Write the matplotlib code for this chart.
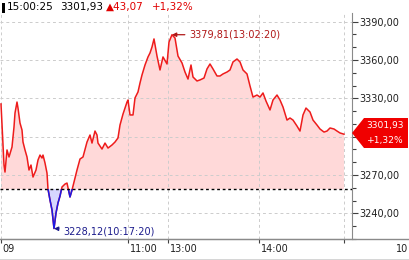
import matplotlib
matplotlib.use("Agg")
import matplotlib.pyplot as plt
import numpy as np
from matplotlib.patches import Polygon, Rectangle
from matplotlib.lines import Line2D
from matplotlib.ticker import MultipleLocator

plt.rcParams["font.family"] = ["DejaVu Sans"]

# intraday index, position along the (compressed) session axis
POS = [1, 4, 5, 7, 9, 12, 14, 15, 17, 18, 20, 22, 23, 25, 27, 29, 31, 33, 36, 38,
       40, 42, 43, 45, 47, 48, 50, 52, 54, 56, 58, 60, 62, 65, 67, 70, 72, 75, 77, 80,
       83, 87, 90, 92, 95, 97, 98, 102, 105, 108, 112, 115, 118, 120, 123, 127, 128, 130, 133, 135,
       138, 140, 142, 145, 148, 150, 152, 154, 157, 160, 163, 167, 169, 172, 175, 178, 182, 185, 188, 191,
       193, 197, 200, 204, 207, 210, 213, 217, 220, 223, 227, 230, 233, 237, 240, 243, 247, 250, 253, 257,
       260, 263, 266, 270, 273, 277, 280, 283, 287, 290, 293, 297, 300, 303, 306, 310, 313, 317, 320, 324,
       327, 330, 334, 337, 340, 344]
PRICE = [3325.6, 3277.8, 3272.3, 3289.6, 3284.1, 3291.9, 3307.6, 3318.5, 3327.1, 3322.4,
         3310.7, 3305.2, 3295.8, 3289.6, 3284.1, 3273.9, 3277.8, 3268.4, 3273.9, 3281.7,
         3285.6, 3283.3, 3285.6, 3279.4, 3271.5, 3259.0, 3250.4, 3242.6, 3228.12, 3240.2,
         3248.1, 3253.5, 3260.6, 3262.9, 3263.7, 3252.8, 3258.2, 3267.6, 3273.9, 3282.5,
         3284.1, 3295.8, 3301.3, 3295.0, 3304.4, 3301.3, 3295.0, 3290.3, 3295.0, 3291.1,
         3293.5, 3295.8, 3299.0, 3309.1, 3317.7, 3327.1, 3328.7, 3317.0, 3317.0, 3330.3,
         3335.0, 3342.0, 3348.3, 3356.1, 3362.4, 3365.5, 3370.2, 3376.5, 3363.1, 3352.2,
         3362.4, 3356.9, 3374.1, 3379.81, 3377.2, 3363.1, 3357.7, 3350.6, 3345.1, 3356.1,
         3346.7, 3343.6, 3344.4, 3345.9, 3353.0, 3356.9, 3353.0, 3347.5, 3347.5, 3349.1,
         3350.6, 3352.2, 3358.5, 3360.8, 3358.5, 3352.2, 3349.1, 3339.7, 3331.0, 3332.6,
         3331.0, 3334.2, 3327.9, 3320.9, 3328.7, 3332.6, 3328.7, 3323.2, 3313.0, 3314.6,
         3313.0, 3308.3, 3304.4, 3317.0, 3322.4, 3319.3, 3313.0, 3309.1, 3306.0, 3303.6,
         3304.4, 3306.8, 3306.0, 3304.4, 3302.9, 3301.93]

LAST = 3301.93
CHANGE = 43.07
CHANGE_PCT = "+1,32%"
PREV_CLOSE = LAST - CHANGE
HIGH = (172, 3379.81, "3379,81(13:02:20)")
LOW = (54, 3228.12, "3228,12(10:17:20)")

X_TICKS = [1, 128, 168, 259, 344]
X_LABELS = ["09", "11:00", "13:00", "14:00", ""]
Y_TICKS = [3240, 3270, 3300, 3330, 3360, 3390]
# the 3300 label sits under the last-price tag
Y_LABELS = ["3240,00", "3270,00", "", "3330,00", "3360,00", "3390,00"]

RED = "#ee1c1c"
BLUE = "#1a1ae6"
PINK = "#ffd9d9"
LILAC = "#d6d6ff"
GRID = "#cccccc"
AXIS = "#8a8a8a"

W, H = 409, 260
fig = plt.figure(figsize=(W / 100, H / 100), dpi=100)
ax = fig.add_axes([0, 21 / H, 352 / W, 226 / H])

x = np.array(POS, dtype=float)
y = np.array(PRICE)

ax.fill_between(x, y, PREV_CLOSE, where=y >= PREV_CLOSE, interpolate=True,
                color=PINK, lw=0, zorder=1)
ax.fill_between(x, y, PREV_CLOSE, where=y <= PREV_CLOSE, interpolate=True,
                color=LILAC, lw=0, zorder=1)
ax.plot(x, y, color=RED, lw=1.1, zorder=3)
blue_line, = ax.plot(x, y, color=BLUE, lw=1.1, zorder=4)
clip = Rectangle((-10, 3000), 500, PREV_CLOSE - 3000, transform=ax.transData)
blue_line.set_clip_path(clip)

ax.axhline(PREV_CLOSE, color="black", lw=1.0, ls=(0, (2, 2)), zorder=5)

ax.set_xlim(0, 352)
ax.set_ylim(3219.9, 3396.8)

ax.set_yticks(Y_TICKS)
ax.set_yticklabels(Y_LABELS, fontsize=7, color="#202020")
ax.yaxis.set_minor_locator(MultipleLocator(10))
ax.yaxis.tick_right()
ax.tick_params(axis="y", which="major", direction="out", length=4, width=0.8,
               color="#404040", pad=1)
ax.tick_params(axis="y", which="minor", direction="out", length=3, width=0.8,
               color="#404040")

ax.set_xticks(X_TICKS)
ax.set_xticklabels([])
ax.tick_params(axis="x", direction="out", length=3, width=0.8, color="#404040")
for pos, lab in zip(X_TICKS, X_LABELS):
    ax.text(pos + 1.5, -0.046, lab, transform=ax.get_xaxis_transform(),
            fontsize=7, ha="left", va="center", color="#202020")
ax.text(396, -0.046, "10", transform=ax.get_xaxis_transform(), fontsize=7,
        ha="left", va="center", color="#202020", clip_on=False)

ax.grid(True, color=GRID, ls=(0, (3, 3)), lw=0.7, zorder=0)
for s in ["top", "left"]:
    ax.spines[s].set_visible(False)
ax.spines["right"].set_color(AXIS)
ax.spines["bottom"].set_color(AXIS)
ax.set_facecolor("white")

fig.add_artist(Line2D([0, 1], [21 / H, 21 / H], color=AXIS, lw=1.0))
fig.add_artist(Line2D([0, 1], [0.5 / H, 0.5 / H], color="#303030", lw=1.0))

# high / low annotations
ax.annotate(HIGH[2], xy=(HIGH[0], HIGH[1]), xytext=(HIGH[0] + 17, HIGH[1]),
            fontsize=7, color="#b01818", va="center", ha="left",
            arrowprops=dict(arrowstyle="-|>", color="#b01818", lw=0.9,
                            mutation_scale=6, shrinkA=1, shrinkB=0), zorder=6)
ax.annotate(LOW[2], xy=(LOW[0], LOW[1]), xytext=(LOW[0] + 9, LOW[1] - 2.5),
            fontsize=7, color="#1c1c8c", va="center", ha="left",
            arrowprops=dict(arrowstyle="-|>", color="#1c1c8c", lw=0.9,
                            mutation_scale=6, shrinkA=1, shrinkB=0), zorder=6)


# last price tag on the right axis
def fx(px):
    return px / W


def fy(py):
    return 1 - py / H


tag = Polygon([(fx(352), fy(133)), (fx(364), fy(118)), (fx(408), fy(118)),
               (fx(408), fy(148)), (fx(364), fy(148))],
              closed=True, transform=fig.transFigure, facecolor="#f00000",
              edgecolor="none", zorder=10)
fig.add_artist(tag)
fig.text(fx(385), fy(125.5), f"{LAST:.2f}".replace(".", ","), color="white",
         fontsize=6.6, ha="center", va="center", zorder=11)
fig.text(fx(385), fy(140.5), CHANGE_PCT, color="white", fontsize=6.6,
         ha="center", va="center", zorder=11)

# header line
fig.add_artist(Rectangle((fx(2), fy(13)), 3 / W, 10 / H, transform=fig.transFigure,
                         facecolor="black", edgecolor="none"))
fig.text(fx(7), fy(7), "15:00:25", fontsize=7.5, ha="left", va="center", color="black")
fig.text(fx(60), fy(7), f"{LAST:.2f}".replace(".", ","), fontsize=7.5, ha="left",
         va="center", color="black")
fig.text(fx(106), fy(7), "▲" + f"{CHANGE:.2f}".replace(".", ","), fontsize=7.5,
         ha="left", va="center", color="#e00000")
fig.text(fx(152), fy(7), CHANGE_PCT, fontsize=7.5, ha="left", va="center", color="#e00000")

fig.savefig("out.png", dpi=100)
